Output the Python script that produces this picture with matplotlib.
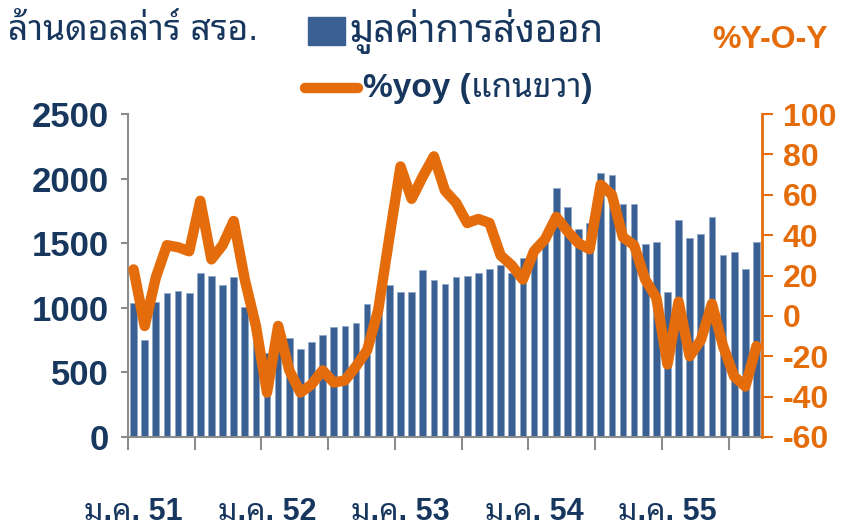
import matplotlib
matplotlib.use("Agg")
import matplotlib.pyplot as plt
from matplotlib.patches import Rectangle
from matplotlib.lines import Line2D
import numpy as np

plt.rcParams["axes.unicode_minus"] = False

# monthly export value (million USD), Jan 51 - Sep 55
export_value = [1036, 751, 1046, 1116, 1129, 1116, 1269, 1248, 1178, 1240, 1009, 750,
                648, 700, 765, 679, 735, 790, 852, 857, 880, 1030, 1020, 1178,
                1124, 1124, 1292, 1214, 1188, 1240, 1248, 1269, 1300, 1335, 1266, 1385,
                1463, 1580, 1929, 1783, 1610, 1659, 2047, 2024, 1804, 1807, 1491, 1509,
                1124, 1677, 1540, 1571, 1703, 1411, 1432, 1304, 1512]
# %yoy (right axis)
yoy = [23, -5, 19, 35, 34, 32, 57, 28, 35, 47, 18, -5,
       -38, -5, -27, -38, -34, -27, -33, -32, -25, -17, 3, 39,
       74, 58, 69, 79, 62, 56, 46, 48, 46, 30, 25, 18,
       32, 38, 49, 42, 36, 33, 65, 60, 39, 35, 18, 9,
       -24, 7, -20, -12, 6, -15, -30, -35, -15]
year_labels = ["ม.ค. 51", "ม.ค. 52", "ม.ค. 53", "ม.ค. 54", "ม.ค. 55"]

navy = "#17375E"
bar_col = "#3A6093"
orange = "#E46C0A"
grey = "#8C8C8C"
thai = ["Liberation Sans", "Noto Sans Thai Looped", "DejaVu Sans"]
thai_narrow = ["Liberation Sans Narrow", "Liberation Sans", "Noto Sans Thai Looped"]

fig = plt.figure(figsize=(8.6, 5.29), dpi=100)
ax = fig.add_axes([128 / 860, 1 - 437 / 529, (762 - 128) / 860, (437 - 114) / 529])

x = np.arange(len(export_value)) + 0.5
ax.bar(x, export_value, width=0.6, color=bar_col, edgecolor="#8FA8C8", linewidth=0.5)
ax.set_xlim(0, len(export_value))
ax.set_ylim(0, 2500)
ax.set_yticks(range(0, 2501, 500))
ax.set_xticks(np.arange(0, len(export_value), 6), minor=True)
ax.set_xticks([0.5, 12.5, 24.5, 36.5, 48.5])
ax.set_xticklabels(year_labels, family=thai_narrow, fontsize=22, fontweight="bold", color=navy)
ax.tick_params(axis="x", which="major", length=0, pad=43)
ax.tick_params(axis="x", which="minor", length=9, width=1.5, color=grey, direction="out")
ax.tick_params(axis="y", length=5, width=1.5, color=grey, pad=9, labelsize=25, labelcolor=navy)
for lab in ax.get_yticklabels():
    lab.set_fontweight("bold")
    lab.set_family("Liberation Sans")
for s in ["top", "right"]:
    ax.spines[s].set_visible(False)
for s in ["left", "bottom"]:
    ax.spines[s].set_color(grey)
    ax.spines[s].set_linewidth(1.5)

ax2 = ax.twinx()
ax2.plot(x, yoy, color=orange, lw=7.5, solid_joinstyle="round", solid_capstyle="round")
ax2.set_ylim(-60, 100)
ax2.set_yticks(range(-60, 101, 20))
ax2.tick_params(axis="y", length=8, width=1.5, color=orange, pad=7, labelsize=23, labelcolor=orange)
for lab in ax2.get_yticklabels():
    lab.set_fontweight("bold")
    lab.set_family("Liberation Sans")
for s in ["top", "left", "bottom"]:
    ax2.spines[s].set_visible(False)
ax2.spines["right"].set_color(orange)
ax2.spines["right"].set_linewidth(2)

# header texts and hand-made legend
fig.text(8 / 860, 1 - 31 / 529, "ล้านดอลล่าร์ สรอ.", family=thai, fontsize=25.5, color=navy, va="center")
fig.patches.append(Rectangle((308 / 860, 1 - 45 / 529), 37 / 860, 28 / 529,
                             transform=fig.transFigure, color=bar_col))
fig.text(349 / 860, 1 - 31 / 529, "มูลค่าการส่งออก", family=thai, fontsize=27.5,
         fontweight="bold", color=navy, va="center")
fig.lines.append(Line2D([305 / 860, 358 / 860], [1 - 88 / 529, 1 - 88 / 529],
                        transform=fig.transFigure, color=orange, lw=7.5, solid_capstyle="round"))
fig.text(363 / 860, 1 - 88 / 529, "%yoy (แกนขวา)", family=thai, fontsize=24,
         fontweight="bold", color=navy, va="center")
fig.text(712 / 860, 1 - 40 / 529, "%Y-O-Y", family="Liberation Sans", fontsize=23,
         fontweight="bold", color=orange, va="center")

fig.savefig("out.png")
